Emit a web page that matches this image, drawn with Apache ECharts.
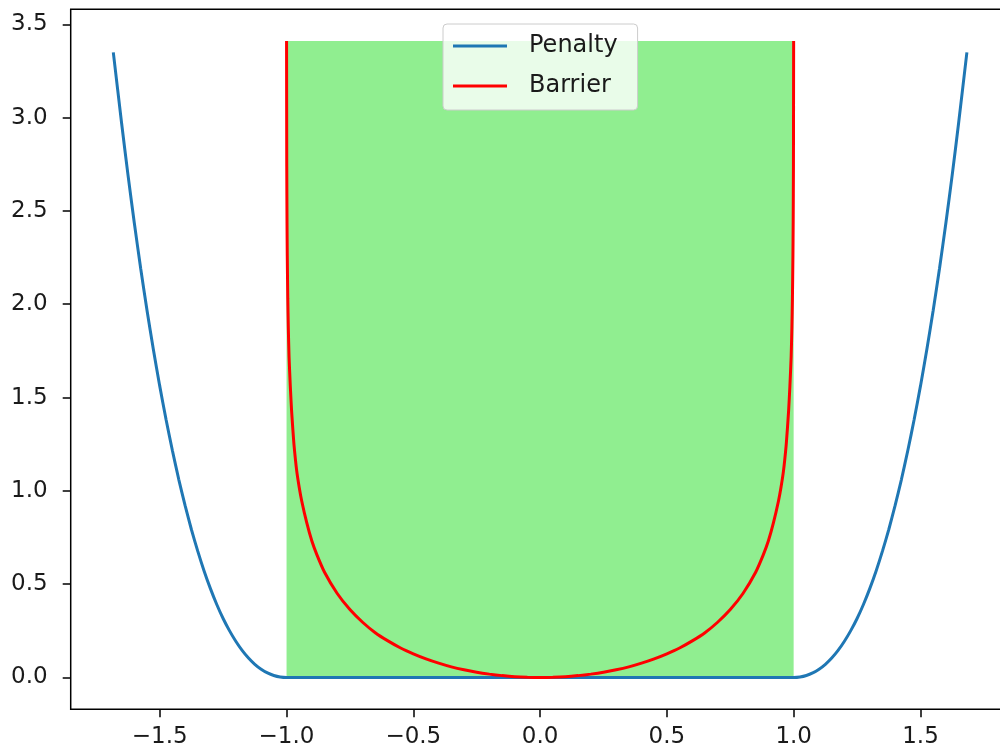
<!DOCTYPE html>
<html>
<head>
<meta charset="utf-8">
<script src="https://cdn.jsdelivr.net/npm/echarts@6/dist/echarts.min.js"></script>
<style>
  html, body { margin: 0; padding: 0; background: #fff; overflow: hidden; }
  #chart { width: 1012px; height: 753px; }
</style>
</head>
<body>
<div id="chart"></div>
<script>
var FONT = "'DejaVu Sans', sans-serif";
var BLUE = "#1f77b4";
var RED = "#ff0000";
var GREEN = "#90ee90";

var xTicks = [-1.5, -1.0, -0.5, 0.0, 0.5, 1.0, 1.5];
var yTicks = [0.0, 0.5, 1.0, 1.5, 2.0, 2.5, 3.0, 3.5];
var xRange = [-1.851, 1.851];
var yRange = [-0.1705, 3.5805];

// penalty curve
var penaltyX = [-1.683, -1.65, -1.625, -1.6, -1.575, -1.55, -1.525, -1.5, -1.475, -1.45, -1.425, -1.4,
  -1.375, -1.35, -1.325, -1.3, -1.275, -1.25, -1.225, -1.2, -1.175, -1.15, -1.125, -1.1, -1.075, -1.05,
  -1.025, -1.0, -0.5, 0.0, 0.5, 1.0, 1.025, 1.05, 1.075, 1.1, 1.125, 1.15, 1.175, 1.2, 1.225, 1.25,
  1.275, 1.3, 1.325, 1.35, 1.375, 1.4, 1.425, 1.45, 1.475, 1.5, 1.525, 1.55, 1.575, 1.6, 1.625, 1.65, 1.683];
var penaltyY = [3.35, 2.967, 2.692, 2.434, 2.192, 1.967, 1.757, 1.5625, 1.382, 1.216, 1.062, 0.922,
  0.793, 0.677, 0.571, 0.476, 0.391, 0.316, 0.251, 0.194, 0.145, 0.104, 0.0705, 0.0441, 0.0242, 0.0105,
  0.0026, 0, 0, 0, 0, 0, 0.0026, 0.0105, 0.0242, 0.0441, 0.0705, 0.104, 0.145, 0.194, 0.251, 0.316,
  0.391, 0.476, 0.571, 0.677, 0.793, 0.922, 1.062, 1.216, 1.382, 1.5625, 1.757, 1.967, 2.192, 2.434, 2.692, 2.967, 3.35];

// barrier curve
var barrierX = [-0.9998, -0.999, -0.998, -0.997, -0.995, -0.993, -0.99, -0.985, -0.98, -0.975, -0.97,
  -0.96, -0.95, -0.94, -0.92, -0.9, -0.88, -0.85, -0.8, -0.75, -0.7, -0.65, -0.6, -0.55, -0.5,
  -0.45, -0.4, -0.35, -0.3, -0.25, -0.2, -0.15, -0.1, -0.05, 0.0, 0.05, 0.1, 0.15, 0.2, 0.25, 0.3,
  0.35, 0.4, 0.45, 0.5, 0.55, 0.6, 0.65, 0.7, 0.75, 0.8, 0.85,
  0.88, 0.9, 0.92, 0.94, 0.95, 0.96, 0.97, 0.975, 0.98, 0.985, 0.99, 0.993, 0.995, 0.997, 0.998,
  0.999, 0.9998];
var barrierY = [3.41, 2.74, 2.44, 2.26, 2.03, 1.88, 1.72, 1.56, 1.43, 1.33, 1.24,
  1.11, 1.02, 0.946, 0.828, 0.731, 0.657, 0.564, 0.45, 0.364, 0.296, 0.24, 0.196, 0.158, 0.127,
  0.10, 0.077, 0.057, 0.041, 0.028, 0.018, 0.010, 0.004, 0.001, 0, 0.001, 0.004, 0.010, 0.018, 0.028, 0.041,
  0.057, 0.077, 0.10, 0.127, 0.158, 0.196, 0.24, 0.296, 0.364, 0.45, 0.564,
  0.657, 0.731, 0.828, 0.946, 1.02, 1.11, 1.24, 1.33, 1.43, 1.56, 1.72, 1.88, 2.03, 2.26, 2.44,
  2.74, 3.41];

// shaded feasible region
var fillX = [-0.9998, 0.9998];
var fillY = [0, 3.41];

function pairs(xs, ys) {
  return xs.map(function(x, i) { return [x, ys[i]]; });
}

function fmtTick(v) {
  return v.toFixed(1).replace("-", "\u2212");
}

var labelStyle = { color: "#1a1a1a", fontSize: 23, fontFamily: FONT };
var tickStyle = { show: true, inside: false, length: 8, lineStyle: { color: "#000", width: 1.5 } };

var chart = echarts.init(document.getElementById("chart"));
chart.setOption({
  animation: false,
  backgroundColor: "#fff",
  grid: { left: 70.7, top: 9.3, width: 938.8, height: 700, show: true,
          borderColor: "#000", borderWidth: 1.5, backgroundColor: "transparent" },
  legend: {
    data: ["Penalty", "Barrier"], orient: "vertical", left: 443, top: 24,
    icon: "rect", itemWidth: 54, itemHeight: 3, itemGap: 16,
    padding: [10, 20, 12, 10],
    backgroundColor: "rgba(255,255,255,0.8)", borderColor: "#cccccc", borderWidth: 1, borderRadius: 4,
    textStyle: { color: "#1a1a1a", fontSize: 24, fontFamily: FONT, lineHeight: 24, padding: [0, 0, 0, 17] }
  },
  xAxis: {
    type: "value", min: xRange[0], max: xRange[1],
    axisLine: { show: false, onZero: false },
    axisTick: Object.assign({ customValues: xTicks }, tickStyle),
    axisLabel: Object.assign({ customValues: xTicks, margin: 16, formatter: fmtTick }, labelStyle),
    splitLine: { show: false }
  },
  yAxis: {
    type: "value", min: yRange[0], max: yRange[1],
    axisLine: { show: false, onZero: false },
    axisTick: Object.assign({ customValues: yTicks }, tickStyle),
    axisLabel: Object.assign({ customValues: yTicks, margin: 23, formatter: fmtTick }, labelStyle),
    splitLine: { show: false }
  },
  series: [
    { name: "fill", type: "line", data: pairs(fillX, fillY), symbol: "none", silent: true, z: 1,
      lineStyle: { opacity: 0 },
      markArea: { silent: true, itemStyle: { color: GREEN, opacity: 1 },
        data: [[{ coord: [fillX[0], fillY[0]] }, { coord: [fillX[1], fillY[1]] }]] } },
    { name: "Penalty", type: "line", data: pairs(penaltyX, penaltyY), symbol: "none", z: 3,
      smooth: 0.2,
      lineStyle: { color: BLUE, width: 3 }, itemStyle: { color: BLUE } },
    { name: "Barrier", type: "line", data: pairs(barrierX, barrierY), symbol: "none", z: 4,
      smooth: 0.2,
      lineStyle: { color: RED, width: 3 }, itemStyle: { color: RED } }
  ]
});
</script>
</body>
</html>
